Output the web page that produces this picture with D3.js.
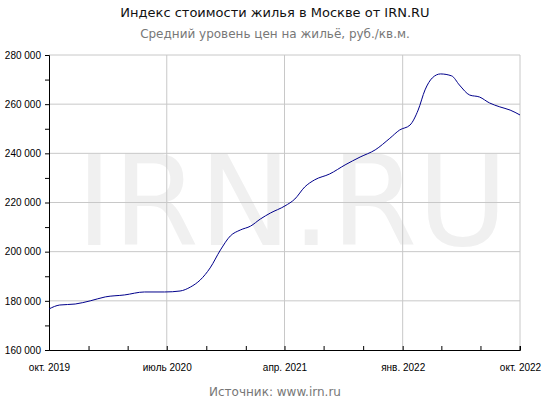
<!DOCTYPE html>
<html><head><meta charset="utf-8">
<script src="https://cdn.jsdelivr.net/npm/d3@7"></script>
<style>body{margin:0;background:#fff}</style>
</head><body>
<script>
// readings
const dates = ["2019-10-01","2019-10-26","2019-12-01","2020-01-05","2020-02-09","2020-03-25","2020-05-10","2020-06-26","2020-08-01","2020-08-25","2020-09-17","2020-10-10","2020-11-03","2020-11-26","2020-12-19","2021-01-12","2021-02-04","2021-02-27","2021-04-02","2021-04-25","2021-05-18","2021-06-10","2021-07-15","2021-08-20","2021-09-24","2021-10-29","2021-12-02","2021-12-25","2022-01-18","2022-02-06","2022-02-22","2022-03-11","2022-03-30","2022-04-25","2022-05-13","2022-06-06","2022-06-29","2022-07-22","2022-08-15","2022-09-08","2022-10-01"];
const prices = [176700,178300,178700,180000,181600,182400,183600,183600,184000,185600,188500,193400,200700,206400,208800,210400,213300,215700,218600,221400,226300,229200,231600,235300,238500,241400,246100,249500,251500,257600,265800,270700,272300,271500,267800,263700,262900,260500,258900,257600,255600];
const xLabels = ["окт. 2019","июль 2020","апр. 2021","янв. 2022","окт. 2022"];

const W = 550, H = 400, m = {l: 49, r: 30, t: 55, b: 50};
const parse = d3.timeParse("%Y-%m-%d");
const data = dates.map((d, i) => ({date: parse(d), v: prices[i]}));

const svg = d3.select("body").append("svg").attr("width", W).attr("height", H)
  .style("font-family", "DejaVu Sans, Verdana, sans-serif");

const x = d3.scaleTime().domain([parse("2019-10-01"), parse("2022-10-01")]).range([m.l, W - m.r]);
const y = d3.scaleLinear().domain([160000, 280000]).range([H - m.b, m.t]);

// watermark
svg.append("text").attr("x", 292).attr("y", 245).attr("text-anchor", "middle")
  .style("font-size", "124px").style("fill", "#f0f0f0").text("IRN.RU");

const quarterly = d3.timeMonth.every(3).range(parse("2019-10-01"), parse("2022-10-02"));
const gridX = quarterly.filter((d, i) => i % 3 === 0);

// grid
svg.append("g").selectAll("line").data(gridX.slice(1)).join("line")
  .attr("x1", d => x(d)).attr("x2", d => x(d)).attr("y1", m.t).attr("y2", H - m.b)
  .attr("stroke", "#c8c8c8");
svg.append("g").selectAll("line").data(d3.range(180000, 280001, 20000)).join("line")
  .attr("x1", m.l).attr("x2", W - m.r).attr("y1", d => y(d)).attr("y2", d => y(d))
  .attr("stroke", "#c8c8c8");

// axes
const fmt = d => d3.format(",")(d).replace(",", " ");
const yAxis = svg.append("g").attr("transform", `translate(${m.l},0)`)
  .call(d3.axisLeft(y).tickValues(d3.range(160000, 280001, 10000)).tickSize(4).tickPadding(4)
    .tickFormat(d => d % 20000 === 0 ? fmt(d) : ""));
const xAxis = svg.append("g").attr("transform", `translate(0,${H - m.b})`)
  .call(d3.axisBottom(x).tickValues(quarterly).tickSize(-4).tickPadding(14)
    .tickFormat((d, i) => i % 3 === 0 ? xLabels[i / 3] : ""));
[xAxis, yAxis].forEach(a => {
  a.select(".domain").attr("stroke", "#000");
  a.selectAll("line").attr("stroke", "#000");
  a.selectAll("text").style("font-family", "Liberation Sans, Arial, sans-serif")
    .style("font-size", "10px").attr("fill", "#000");
});
xAxis.selectAll("line").attr("y2", -4);
svg.append("line").attr("x1", W - m.r).attr("x2", W - m.r).attr("y1", H - m.b).attr("y2", H - m.b - 4).attr("stroke", "#000");

// line
svg.append("path").datum(data)
  .attr("d", d3.line().x(d => x(d.date)).y(d => y(d.v)).curve(d3.curveMonotoneX))
  .attr("fill", "none").attr("stroke", "#00008b").attr("stroke-width", 1);

// titles
svg.append("text").attr("x", 275).attr("y", 17).attr("text-anchor", "middle")
  .style("font-size", "13px").attr("fill", "#111").text("Индекс стоимости жилья в Москве от IRN.RU");
svg.append("text").attr("x", 275).attr("y", 38).attr("text-anchor", "middle")
  .style("font-size", "12px").attr("fill", "#777").text("Средний уровень цен на жильё, руб./кв.м.");
svg.append("text").attr("x", 275).attr("y", 396).attr("text-anchor", "middle")
  .style("font-size", "12px").attr("fill", "#777").text("Источник: www.irn.ru");
</script>
</body></html>
